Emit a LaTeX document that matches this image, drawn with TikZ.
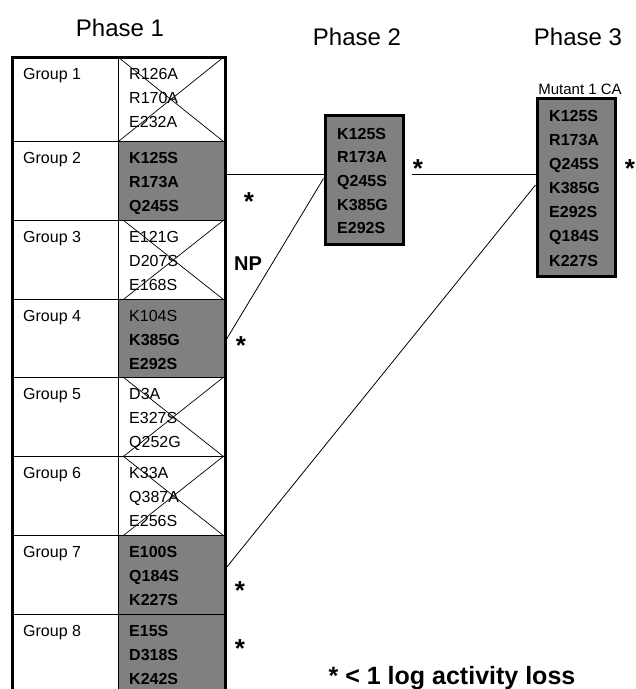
\documentclass[tikz,border=0pt]{standalone}
\usepackage{fontspec}
\setmainfont{Liberation Sans}
\definecolor{cellgray}{RGB}{128,128,128}
\begin{document}
\begin{tikzpicture}[x=1pt,y=-1pt,
  lbl/.style={anchor=base west, inner sep=0pt, font=\fontsize{16}{19}\selectfont},
  lblb/.style={anchor=base west, inner sep=0pt, font=\fontsize{16}{19}\selectfont\bfseries},
  ttl/.style={inner sep=0pt, font=\fontsize{24}{28}\selectfont},
  starmark/.style={anchor=base, inner sep=0pt, font=\fontsize{26}{30}\selectfont\bfseries},
  cellL/.style={draw, line width=0.8pt, anchor=north west, inner sep=0pt, minimum width=106pt},
  cellR/.style={draw, line width=0.8pt, anchor=north west, inner sep=0pt, minimum width=107pt},
  hit/.style={fill=cellgray},
  phasebox/.style={draw, line width=3pt, fill=cellgray, inner sep=0pt},
  conn/.style={line width=0.8pt},
  xline/.style={line width=0.7pt}
]
\useasboundingbox (0,0) rectangle (636,689);

% table cells
\foreach \i/\t/\h in {1/57/84,2/141/79,3/220/79,4/299/78,5/377/79,6/456/79,7/535/79,8/614/80}{
  \node[cellL, minimum height=\h pt] (g\i) at (12,\t) {};
}
\foreach \i/\t/\h in {1/57/84,3/220/79,5/377/79,6/456/79}{
  \node[cellR, minimum height=\h pt] (m\i) at (118,\t) {};
}
\foreach \i/\t/\h in {2/141/79,4/299/78,7/535/79,8/614/80}{
  \node[cellR, hit, minimum height=\h pt] (m\i) at (118,\t) {};
}
% crosses
\foreach \i/\d in {1/0,3/5,5/5,6/5}{
  \draw[xline] ([xshift=\d pt]m\i.north west) -- ([xshift=-2pt]m\i.south east);
  \draw[xline] ([xshift=\d pt]m\i.south west) -- ([xshift=-2pt]m\i.north east);
}
% outer border
\draw[line width=3pt, line join=miter] (12,692) -- (12,57) -- (225,57) -- (225,692);

% phase boxes
\node[phasebox, minimum width=78pt, minimum height=129pt] (p2) at (364,179.5) {};
\node[phasebox, minimum width=78pt, minimum height=178pt] (p3) at (576,187) {};

% connectors
\coordinate (a2) at (225,174);
\coordinate (a4) at (226,340);
\coordinate (c2) at (412,174);
\coordinate (a7) at (226,568);
\draw[conn] (a2) -- (a2 -| p2.west);
\draw[conn] (a4) -- ([yshift=1pt]p2.west);
\draw[conn] (c2) -- (c2 -| p3.west);
\draw[conn] (a7) -- ([yshift=2pt]p3.west);
\node[phasebox, fill=none] (p2b) at (364,179.5) [minimum width=78pt, minimum height=129pt] {};
\node[phasebox, fill=none] (p3b) at (576,187) [minimum width=78pt, minimum height=178pt] {};

% titles
\node[ttl] (h1) at (120,28) {Phase 1};
\node[ttl] (h2) at (357,37) {Phase 2};
\node[ttl] (h3) at (578,37) {Phase 3};
\node[inner sep=0pt, font=\fontsize{15}{18}\selectfont] (mut) at (580,89) {Mutant 1 CA};

% group labels and mutations
\foreach \i/\t/\sa/\a/\sb/\b/\sc/\c in {
  1/57/lbl/R126A/lbl/R170A/lbl/E232A,
  2/141/lblb/K125S/lblb/R173A/lblb/Q245S,
  3/220/lbl/E121G/lbl/D207S/lbl/E168S,
  4/299/lbl/K104S/lblb/K385G/lblb/E292S,
  5/377/lbl/D3A/lbl/E327S/lbl/Q252G,
  6/456/lbl/K33A/lbl/Q387A/lbl/E256S,
  7/535/lblb/E100S/lblb/Q184S/lblb/K227S,
  8/614/lblb/E15S/lblb/D318S/lblb/K242S}{
  \node[lbl] (gl\i) at (23,\t+22) {Group \i};
  \node[\sa] (t\i-1) at (129,\t+22) {\a};
  \node[\sb] (t\i-2) at (129,\t+46) {\b};
  \node[\sc] (t\i-3) at (129,\t+70) {\c};
}

% phase 2 text
\foreach \k/\s in {0/K125S,1/R173A,2/Q245S,3/K385G,4/E292S}{
  \node[lblb] (q2-\k) at (337,139+23.7*\k) {\s};
}
% phase 3 text
\foreach \k/\s in {0/K125S,1/R173A,2/Q245S,3/K385G,4/E292S,5/Q184S,6/K227S}{
  \node[lblb] (q3-\k) at (549,121+24.17*\k) {\s};
}

% stars and labels
\node[starmark] (s2) at (249,210) {*};
\node[starmark] (s4) at (241,354) {*};
\node[starmark] (s7) at (240,599) {*};
\node[starmark] (s8) at (240,657) {*};
\node[starmark] (sp2) at (418,177) {*};
\node[starmark] (sp3) at (630,177) {*};
\node[inner sep=0pt, font=\fontsize{20}{24}\selectfont\bfseries] (np) at (248,264) {NP};
\node[anchor=base, inner sep=0pt, font=\fontsize{25}{30}\selectfont\bfseries] (legend) at (452,684) {* < 1 log activity loss};
\end{tikzpicture}
\end{document}
